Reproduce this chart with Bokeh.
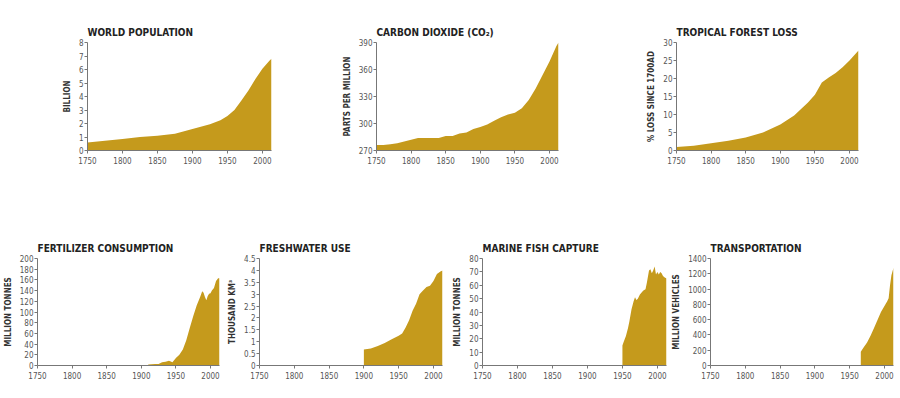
from bokeh.plotting import figure
from bokeh.models import Range1d, FixedTicker, NumeralTickFormatter, ColumnDataSource
from bokeh.layouts import column, row
from bokeh.embed import file_html
from bokeh.resources import INLINE

# ---------------- data ----------------
x_ticks = [1750, 1800, 1850, 1900, 1950, 2000]

pop_years = [1750, 1775, 1800, 1825, 1850, 1875, 1900, 1925, 1940, 1950, 1960, 1970, 1980, 1990, 2000, 2010, 2013]
pop_values = [0.6, 0.72, 0.85, 1.0, 1.1, 1.25, 1.6, 1.95, 2.25, 2.55, 3.0, 3.7, 4.45, 5.3, 6.05, 6.65, 6.8]

co2_years = [1750, 1760, 1770, 1780, 1790, 1800, 1810, 1820, 1830, 1840, 1850, 1860, 1870, 1880, 1890,
             1900, 1910, 1920, 1930, 1940, 1950, 1960, 1970, 1980, 1990, 2000, 2010, 2013]
co2_values = [276, 276, 277, 278, 280, 282, 284, 284, 284, 284, 286, 286, 289, 290, 294,
              296, 299, 303, 307, 310, 312, 317, 326, 339, 354, 369, 386, 390]

forest_years = [1750, 1775, 1800, 1825, 1850, 1875, 1900, 1920, 1940, 1950, 1960, 1970, 1980, 1990, 2000, 2013]
forest_values = [1.0, 1.3, 2.0, 2.7, 3.6, 5.0, 7.2, 9.7, 13.3, 15.5, 18.9, 20.3, 21.5, 23.1, 25.0, 27.8]

fert_years = [1910, 1920, 1925, 1930, 1935, 1940, 1945, 1950, 1955, 1960, 1965, 1970, 1975, 1980, 1985,
              1988, 1990, 1992, 1994, 1996, 1998, 2000, 2002, 2005, 2008, 2011, 2013]
fert_values = [2, 3, 3, 6, 7, 9, 6, 14, 20, 30, 47, 70, 92, 112, 128,
               139, 136, 128, 122, 130, 134, 135, 140, 145, 158, 163, 163]

water_years = [1900, 1910, 1920, 1930, 1940, 1950, 1955, 1960, 1965, 1970, 1975, 1980, 1985, 1990, 1995,
               2000, 2005, 2010, 2013]
water_values = [0.67, 0.72, 0.82, 0.95, 1.1, 1.25, 1.35, 1.6, 1.9, 2.3, 2.6, 3.0, 3.15, 3.3, 3.35,
                3.55, 3.85, 3.95, 4.0]

fish_years = [1950, 1952, 1955, 1958, 1960, 1963, 1966, 1968, 1970, 1972, 1975, 1978, 1980, 1983, 1985,
              1988, 1990, 1992, 1994, 1996, 1998, 2000, 2002, 2004, 2006, 2008, 2010, 2013]
fish_values = [15, 18, 22, 28, 33, 42, 48, 51, 49, 50, 53, 55, 56, 57, 62,
               71, 72, 69, 71, 74, 68, 70, 68, 70, 69, 67, 66, 65]

car_years = [1966, 1970, 1975, 1980, 1985, 1990, 1995, 2000, 2004, 2006, 2008, 2010, 2013]
car_values = [180, 235, 300, 390, 490, 595, 700, 780, 840, 880, 1050, 1180, 1280]

GOLD = "#C59A1C"


def panel(title, ylabel, years, values, base, ytop, yticks, fw, fh, bl, br, bt, bb, fmt=None):
    p = figure(width=bl + fw + br, height=bt + fh + bb,
               x_range=Range1d(1750, 2013), y_range=Range1d(base, ytop),
               output_backend="svg", toolbar_location=None, title=title,
               min_border_left=bl, min_border_right=br, min_border_top=bt, min_border_bottom=bb)
    src = ColumnDataSource(dict(x=years, y=values, b=[base] * len(years)))
    p.varea(x="x", y1="b", y2="y", source=src, fill_color=GOLD)
    p.title.text_font = "DejaVu Sans Condensed"
    p.title.text_font_style = "bold"
    p.title.text_font_size = "10px"
    p.title.text_color = "#222222"
    p.title.align = "left"
    p.title.standoff = 10
    p.xgrid.visible = False
    p.ygrid.visible = False
    p.outline_line_color = None
    p.xaxis.ticker = FixedTicker(ticks=x_ticks)
    p.yaxis.ticker = FixedTicker(ticks=yticks)
    if fmt:
        p.yaxis.formatter = NumeralTickFormatter(format=fmt)
    for ax in (p.xaxis, p.yaxis):
        ax.axis_line_color = "#777777"
        ax.major_tick_line_color = "#777777"
        ax.major_tick_out = 3
        ax.major_tick_in = 0
        ax.minor_tick_out = 0
        ax.minor_tick_in = 0
        ax.major_label_text_font = "DejaVu Sans Condensed"
        ax.major_label_text_font_size = "8px"
        ax.major_label_text_color = "#555555"
    p.xaxis.major_label_standoff = 3
    p.yaxis.major_label_standoff = 1
    p.yaxis.axis_label = ylabel
    p.yaxis.axis_label_text_font = "DejaVu Sans Condensed"
    p.yaxis.axis_label_text_font_style = "bold"
    p.yaxis.axis_label_text_font_size = "8px"
    p.yaxis.axis_label_text_color = "#333333"
    p.yaxis.axis_label_standoff = 4
    p.background_fill_color = "white"
    p.border_fill_color = "white"
    return p


a = panel("WORLD POPULATION", "BILLION", pop_years, pop_values, 0, 8, list(range(0, 9)),
          184, 108, 87, 58, 42, 57)
b = panel("CARBON DIOXIDE (CO\u2082)", "PARTS PER MILLION", co2_years, co2_values, 270, 390,
          [270, 300, 330, 360, 390], 182, 108, 47, 51, 42, 57)
c = panel("TROPICAL FOREST LOSS", "% LOSS SINCE 1700AD", forest_years, forest_values, 0, 30,
          [0, 5, 10, 15, 20, 25, 30], 182, 108, 67, 33, 42, 57)

d = panel("FERTILIZER CONSUMPTION", "MILLION TONNES", fert_years, fert_values, 0, 200,
          list(range(0, 201, 20)), 182, 107, 37, 5, 51, 24)
e = panel("FRESHWATER USE", "THOUSAND KM\u00b3", water_years, water_values, 0, 4.5,
          [0, 0.5, 1, 1.5, 2, 2.5, 3, 3.5, 4, 4.5], 183, 107, 35, 7, 51, 24, fmt="0.[0]")
f = panel("MARINE FISH CAPTURE", "MILLION TONNES", fish_years, fish_values, 0, 80,
          list(range(0, 81, 10)), 184, 107, 33, 3, 51, 24)
g = panel("TRANSPORTATION", "MILLION VEHICLES", car_years, car_values, 0, 1400,
          list(range(0, 1401, 200)), 184, 107, 40, 4, 51, 24)

layout = column(row(a, b, c), row(d, e, f, g))

open("out.html", "w").write(file_html(layout, INLINE))
